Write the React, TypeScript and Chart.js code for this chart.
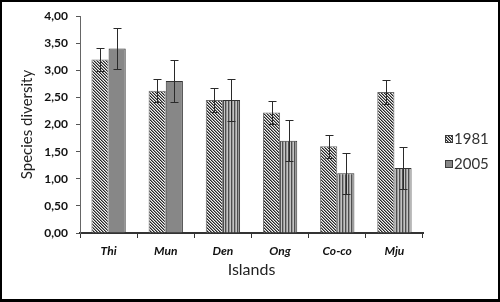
import React, { useEffect, useRef } from 'react';
import { Chart, registerables } from 'chart.js';
Chart.register(...registerables);

const islands = ['Thi', 'Mun', 'Den', 'Ong', 'Co-co', 'Mju'];
const seriesNames = ['1981', '2005'];
const values1981 = [3.2, 2.62, 2.45, 2.22, 1.6, 2.6];
const values2005 = [3.4, 2.8, 2.45, 1.7, 1.1, 1.2];
const error1981 = [0.21, 0.21, 0.22, 0.21, 0.21, 0.22];
const error2005 = [0.37, 0.38, 0.38, 0.38, 0.38, 0.38];
const yMin = 0;
const yMax = 4;
const yStep = 0.5;
const xTitle = 'Islands';
const yTitle = 'Species diversity';

const FONT = 'Lato, "Open Sans", "DejaVu Sans", sans-serif';

function makeHatch(): CanvasPattern | string {
  const t = document.createElement('canvas');
  t.width = 3;
  t.height = 3;
  const c = t.getContext('2d');
  if (!c) return '#888';
  const cols = ['#262626', '#8c8c8c', '#f4f4f4'];
  for (let y = 0; y < 3; y++) {
    for (let x = 0; x < 3; x++) {
      c.fillStyle = cols[(x - y + 9) % 3];
      c.fillRect(x, y, 1, 1);
    }
  }
  return c.createPattern(t, 'repeat') || '#888';
}

function makeStripes(): CanvasPattern | string {
  const t = document.createElement('canvas');
  t.width = 3;
  t.height = 1;
  const c = t.getContext('2d');
  if (!c) return '#888';
  const cols = ['#4e4e4e', '#9a9a9a', '#c4c4c4'];
  cols.forEach((col, i) => {
    c.fillStyle = col;
    c.fillRect(i, 0, 1, 1);
  });
  return c.createPattern(t, 'repeat') || '#888';
}

export default function App() {
  const ref = useRef<HTMLCanvasElement | null>(null);

  useEffect(() => {
    document.body.style.margin = '0';
    const canvas = ref.current;
    if (!canvas) return;
    const hatch = makeHatch();
    const stripes = makeStripes();
    const solid2005 = '#878787';
    const bg2005 = islands.map((_, i) => (i < 2 ? solid2005 : stripes));
    const errors = [error1981, error2005];

    const errorBars = {
      id: 'errorBars',
      afterDatasetsDraw(chart: any) {
        const ctx = chart.ctx;
        const ys = chart.scales.y;
        ctx.save();
        ctx.strokeStyle = '#2a2a2a';
        ctx.lineWidth = 1;
        chart.data.datasets.forEach((ds: any, di: number) => {
          const meta = chart.getDatasetMeta(di);
          meta.data.forEach((bar: any, i: number) => {
            const v = ds.data[i];
            const e = errors[di][i];
            const x = Math.round(bar.x) + 0.5;
            const yt = Math.round(ys.getPixelForValue(v + e)) + 0.5;
            const yb = Math.round(ys.getPixelForValue(v - e)) + 0.5;
            ctx.beginPath();
            ctx.moveTo(x, yt);
            ctx.lineTo(x, yb);
            ctx.moveTo(x - 4, yt);
            ctx.lineTo(x + 4, yt);
            ctx.moveTo(x - 4, yb);
            ctx.lineTo(x + 4, yb);
            ctx.stroke();
          });
        });
        ctx.restore();
      },
    };

    const frame = {
      id: 'frame',
      beforeDraw(chart: any) {
        const ctx = chart.ctx;
        ctx.save();
        ctx.fillStyle = '#ffffff';
        ctx.fillRect(0, 0, chart.width, chart.height);
        ctx.restore();
      },
      afterDraw(chart: any) {
        const ctx = chart.ctx;
        ctx.save();
        const fills = [hatch, solid2005];
        seriesNames.forEach((name, i) => {
          const bx = 445;
          const by = 135 + i * 25;
          ctx.fillStyle = fills[i];
          ctx.fillRect(bx, by, 7, 7);
          ctx.strokeStyle = '#3a3a3a';
          ctx.lineWidth = 1;
          ctx.strokeRect(bx + 0.5, by + 0.5, 7, 7);
          ctx.fillStyle = '#333333';
          ctx.font = '15px ' + FONT;
          ctx.textBaseline = 'middle';
          ctx.textAlign = 'left';
          ctx.fillText(name, bx + 9, by + 4);
        });
        ctx.strokeStyle = '#000000';
        ctx.lineWidth = 2;
        ctx.strokeRect(1, 1, chart.width - 2, chart.height - 2);
        ctx.fillStyle = '#000000';
        ctx.fillRect(0, chart.height - 3, chart.width, 3);
        ctx.restore();
      },
    };

    const chart = new Chart(canvas, {
      type: 'bar',
      data: {
        labels: islands,
        datasets: [
          {
            label: seriesNames[0],
            data: values1981,
            backgroundColor: hatch as any,
            borderColor: '#6a6a6a',
            borderWidth: 1,
            categoryPercentage: 0.6,
            barPercentage: 1,
          },
          {
            label: seriesNames[1],
            data: values2005,
            backgroundColor: bg2005 as any,
            borderColor: '#333333',
            borderWidth: 1,
            categoryPercentage: 0.6,
            barPercentage: 1,
          },
        ],
      },
      options: {
        animation: false,
        responsive: false,
        maintainAspectRatio: false,
        layout: { padding: { left: 0, right: 77, top: 16, bottom: 0 } },
        plugins: {
          legend: { display: false },
          tooltip: { enabled: false },
          title: { display: false },
        },
        scales: {
          x: {
            type: 'category',
            afterFit(scale: any) {
              scale.height = 69;
            },
            grid: {
              display: true,
              drawOnChartArea: false,
              drawTicks: true,
              tickLength: 5,
              color: '#333333',
              offset: true,
            },
            border: { display: true, color: '#333333', width: 2 },
            ticks: {
              color: '#111111',
              padding: 6,
              font: { family: FONT, size: 12, weight: 'bold', style: 'italic' },
              maxRotation: 0,
            },
            title: {
              display: true,
              text: xTitle,
              color: '#222222',
              font: { family: FONT, size: 16 },
              padding: { top: 4, bottom: 23 },
            },
          },
          y: {
            min: yMin,
            max: yMax,
            afterFit(scale: any) {
              scale.width = 80;
            },
            grid: {
              display: true,
              drawOnChartArea: false,
              drawTicks: true,
              tickLength: 4,
              color: '#555555',
            },
            border: { display: true, color: '#666666', width: 1 },
            ticks: {
              stepSize: yStep,
              padding: 8,
              color: '#111111',
              font: { family: FONT, size: 12, weight: 'bold' },
              callback: (v: any) => Number(v).toFixed(2).replace('.', ','),
            },
            title: {
              display: true,
              text: yTitle,
              color: '#222222',
              font: { family: FONT, size: 15 },
              padding: { top: 18, bottom: 4 },
            },
          },
        },
      },
      plugins: [errorBars, frame],
    });

    return () => {
      chart.destroy();
    };
  }, []);

  return (
    <div style={{ width: 500, height: 302 }}>
      <canvas ref={ref} width={500} height={302} style={{ display: 'block', width: 500, height: 302 }} />
    </div>
  );
}
